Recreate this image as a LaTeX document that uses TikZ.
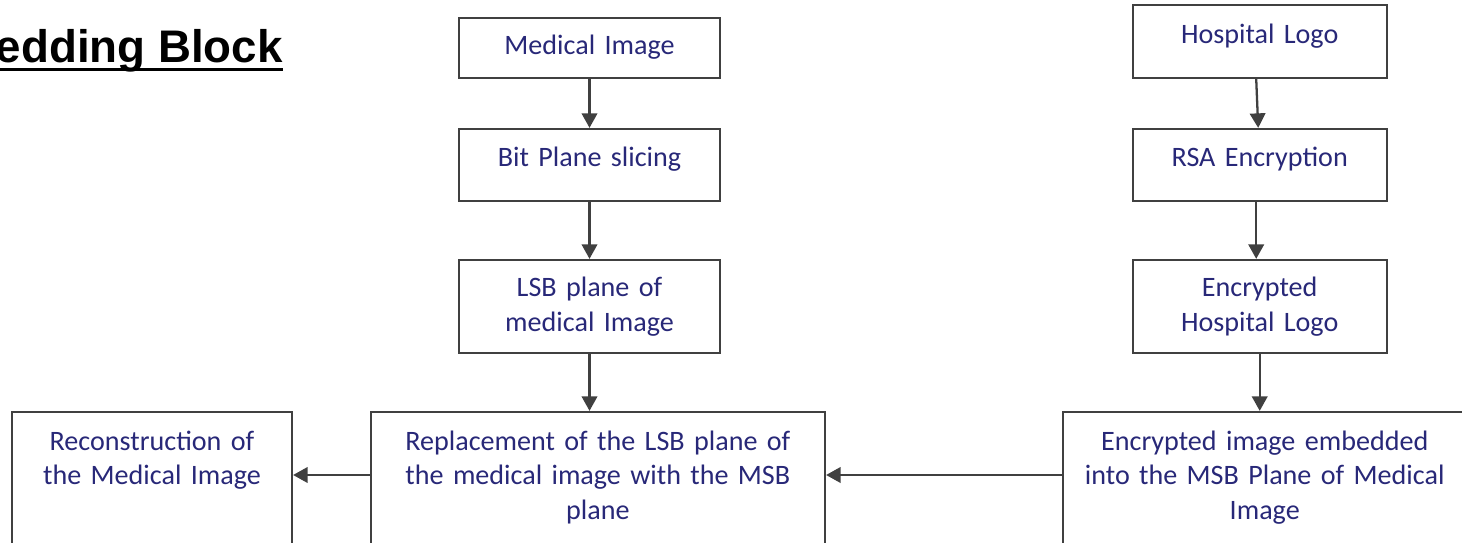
\documentclass[tikz,border=0pt]{standalone}
\usepackage{fontspec}
\setmainfont[WordSpace=0.8]{Carlito}
\newfontfamily\titlefont{Liberation Sans}
\usepackage{xcolor}
\usetikzlibrary{arrows.meta}
\definecolor{boxtext}{RGB}{40,40,120}
\definecolor{edgegray}{RGB}{64,64,64}

\begin{document}
\begin{tikzpicture}[x=0.02cm, y=-0.02cm,
    box/.style={draw=edgegray, line width=1.3pt, inner sep=0pt, anchor=base,
      align=center, text=boxtext, font=\fontsize{16}{19.9}\selectfont},
    arr/.style={draw=edgegray, line width=1.3pt, -{Triangle[length=0.29cm,width=0.31cm]}}]
    % page frame (1 unit = 1 pixel)
    \useasboundingbox (0,0) rectangle (1462,543);
    \clip (0,0) rectangle (1462,543);

    % Title
    \node[anchor=base east, inner sep=0pt, font=\titlefont\bfseries\fontsize{26}{30}\selectfont] (title) at (283,63) {edding Block};
    \draw[line width=0.06cm] ([yshift=-0.13cm]title.base west) -- ([yshift=-0.13cm]title.base east);

    % Medical image column
    \node[box, text width=5.22cm, text height=0.74cm, text depth=0.46cm] (med) at (589.5,55) {Medical Image};
    \node[box, text width=5.22cm, text height=0.754cm, text depth=0.686cm] (bps) at (589.5,166.7) {Bit Plane slicing};
    \node[box, text width=5.22cm, text height=0.734cm, text depth=1.132cm] (lsb) at (589.5,296.7) {LSB plane of\\medical Image};

    % Hospital logo column
    \node[box, text width=5.08cm, text height=0.766cm, text depth=0.694cm] (logo) at (1259.7,43.3) {Hospital Logo};
    \node[box, text width=5.08cm, text height=0.754cm, text depth=0.686cm] (rsa) at (1259.7,166.7) {RSA Encryption};
    \node[box, text width=5.08cm, text height=0.734cm, text depth=1.132cm] (enclogo) at (1259.7,296.7) {Encrypted\\Hospital Logo};

    % Bottom row (boxes run past the frame)
    \node[box, text width=5.6cm, text height=0.76cm, text depth=2.5cm] (recon) at (152,450) {Reconstruction of\\the Medical Image};
    \node[box, text width=9.086cm, text height=0.76cm, text depth=2.5cm] (repl) at (597.85,450) {Replacement of the LSB plane of\\the medical image with the MSB\\plane};
    \node[box, text width=8.08cm, text height=0.76cm, text depth=2.5cm] (emb) at (1264.7,450) {Encrypted image embedded\\into the MSB Plane of Medical\\Image};

    % Connectors
    \foreach \a/\b in {med/bps, bps/lsb} {
      \draw[arr] (\a.south) -- (\b.north);
    }
    \draw[arr] ([xshift=-0.07cm]logo.south) -- ([xshift=-0.03cm]rsa.north);
    \draw[arr] ([xshift=-0.07cm]rsa.south) -- ([xshift=-0.07cm]enclogo.north);
    \draw[arr] (lsb.south) -- (lsb.south |- repl.north);
    \draw[arr] (enclogo.south) -- (enclogo.south |- emb.north);

    \coordinate (flow) at (0,475);
    \draw[arr] (emb.west |- flow) -- (repl.east |- flow);
    \draw[arr] (repl.west |- flow) -- (recon.east |- flow);
\end{tikzpicture}
\end{document}
